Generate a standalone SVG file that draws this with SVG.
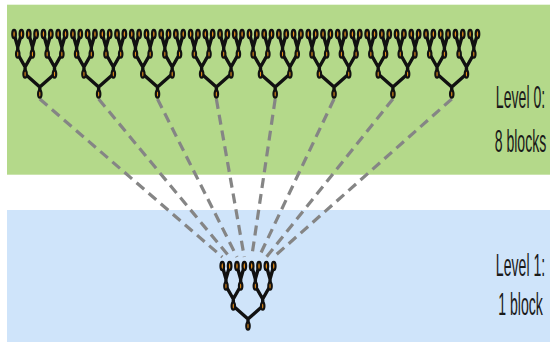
<svg xmlns="http://www.w3.org/2000/svg" xmlns:xlink="http://www.w3.org/1999/xlink" width="550" height="342" viewBox="0 0 550 342">
  <style>
    .band-top { fill: #b4d98a; }
    .band-bottom { fill: #cfe4fa; }
    .branch { fill: none; stroke: #111; stroke-width: 3.4; stroke-linecap: round; stroke-linejoin: round; }
    .leaf { fill: #e8901c; stroke: #111; stroke-width: 2.2; }
    .inner { fill: #e8901c; stroke: #111; stroke-width: 2.2; }
    .link { fill: none; stroke: #858585; stroke-width: 3.2; stroke-dasharray: 10 6; }
    .label { font-family: "Liberation Sans", Arial, sans-serif; font-size: 32px; fill: #1a1a1a; text-anchor: middle; }
  </style>
  <defs>
    <!-- binary tree with 8 leaves, root at (0,0); each pair joins in a Y just above its parent -->
    <g id="tree">
      <path class="branch" d="M-25.725,-60 L-22.05,-47 L-18.375,-60 M-22.05,-47 L-22.05,-40
                               M-11.025,-60 L-7.35,-47 L-3.675,-60 M-7.35,-47 L-7.35,-40
                               M3.675,-60 L7.35,-47 L11.025,-60 M7.35,-47 L7.35,-40
                               M18.375,-60 L22.05,-47 L25.725,-60 M22.05,-47 L22.05,-40
                               M-22.05,-40 L-14.7,-27 L-7.35,-40 M-14.7,-27 L-14.7,-20
                               M7.35,-40 L14.7,-27 L22.05,-40 M14.7,-27 L14.7,-20
                               M-14.7,-20 L0,-7 L14.7,-20 M0,-7 L0,0"/>
      <ellipse class="leaf" cx="-25.725" cy="-60" rx="1.8" ry="4.2"/>
      <ellipse class="leaf" cx="-18.375" cy="-60" rx="1.8" ry="4.2"/>
      <ellipse class="leaf" cx="-11.025" cy="-60" rx="1.8" ry="4.2"/>
      <ellipse class="leaf" cx="-3.675" cy="-60" rx="1.8" ry="4.2"/>
      <ellipse class="leaf" cx="3.675" cy="-60" rx="1.8" ry="4.2"/>
      <ellipse class="leaf" cx="11.025" cy="-60" rx="1.8" ry="4.2"/>
      <ellipse class="leaf" cx="18.375" cy="-60" rx="1.8" ry="4.2"/>
      <ellipse class="leaf" cx="25.725" cy="-60" rx="1.8" ry="4.2"/>
      <ellipse class="inner" cx="-22.05" cy="-40" rx="1.7" ry="3.6"/>
      <ellipse class="inner" cx="-7.35" cy="-40" rx="1.7" ry="3.6"/>
      <ellipse class="inner" cx="7.35" cy="-40" rx="1.7" ry="3.6"/>
      <ellipse class="inner" cx="22.05" cy="-40" rx="1.7" ry="3.6"/>
      <ellipse class="inner" cx="-14.7" cy="-20" rx="1.7" ry="3.6"/>
      <ellipse class="inner" cx="14.7" cy="-20" rx="1.7" ry="3.6"/>
      <ellipse class="inner" cx="0" cy="0" rx="1.7" ry="3.6"/>
    </g>
  </defs>

  <rect width="550" height="342" fill="#fff"/>
  <rect class="band-top" x="7" y="4.7" width="543" height="170"/>
  <rect class="band-bottom" x="7" y="210" width="543" height="132"/>

  <!-- links from each level-0 root to a level-1 leaf -->
  <g id="connectors">
    <line class="link" x1="39.8" y1="99" x2="222.3" y2="257"/>
    <line class="link" x1="98.65" y1="99" x2="229.6" y2="257"/>
    <line class="link" x1="157.5" y1="99" x2="237" y2="257"/>
    <line class="link" x1="216.35" y1="99" x2="244.3" y2="257"/>
    <line class="link" x1="275.2" y1="99" x2="251.7" y2="257"/>
    <line class="link" x1="334.05" y1="99" x2="259" y2="257"/>
    <line class="link" x1="392.9" y1="99" x2="266.4" y2="257"/>
    <line class="link" x1="451.75" y1="99" x2="273.7" y2="257"/>
  </g>

  <!-- level 0 blocks -->
  <g id="block0-1"><use xlink:href="#tree" x="39.8" y="94"/></g>
  <g id="block0-2"><use xlink:href="#tree" x="98.65" y="94"/></g>
  <g id="block0-3"><use xlink:href="#tree" x="157.5" y="94"/></g>
  <g id="block0-4"><use xlink:href="#tree" x="216.35" y="94"/></g>
  <g id="block0-5"><use xlink:href="#tree" x="275.2" y="94"/></g>
  <g id="block0-6"><use xlink:href="#tree" x="334.05" y="94"/></g>
  <g id="block0-7"><use xlink:href="#tree" x="392.9" y="94"/></g>
  <g id="block0-8"><use xlink:href="#tree" x="451.75" y="94"/></g>

  <!-- level 1 block -->
  <g id="block1"><use xlink:href="#tree" x="248" y="326"/></g>

  <!-- condensed labels: tall type squeezed horizontally -->
  <g id="labels">
    <text class="label" transform="translate(520.5,107.5) scale(0.44,1)">Level 0:</text>
    <text class="label" transform="translate(520.5,151.5) scale(0.44,1)">8 blocks</text>
    <text class="label" transform="translate(520.5,276) scale(0.44,1)">Level 1:</text>
    <text class="label" transform="translate(520.5,315) scale(0.44,1)">1 block</text>
  </g>
</svg>
